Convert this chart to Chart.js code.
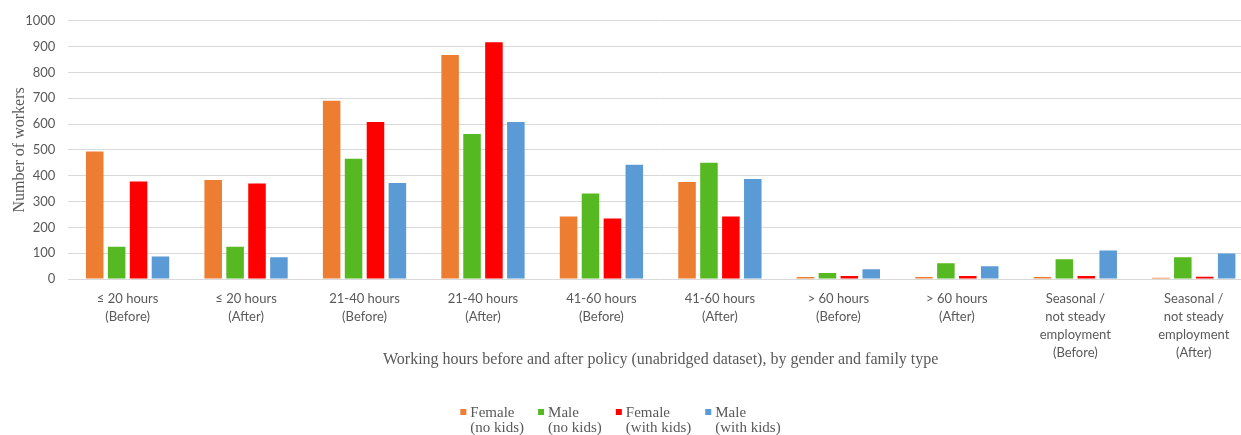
<!DOCTYPE html>
<html>
<head>
<meta charset="utf-8">
<script src="https://cdn.jsdelivr.net/npm/chart.js@4.4.1/dist/chart.umd.min.js"></script>
<style>
  html, body { margin: 0; padding: 0; background: #fff; overflow: hidden; }
  /* plot runs slightly past the right edge of the window, as in the source image */
  #wrap { width: 1253px; height: 435px; }
</style>
</head>
<body>
<div id="wrap"><canvas id="barchart"></canvas></div>
<script>
// data block
const categories = [
  ["\u2264 20 hours", "(Before)"],
  ["\u2264 20 hours", "(After)"],
  ["21-40 hours", "(Before)"],
  ["21-40 hours", "(After)"],
  ["41-60 hours", "(Before)"],
  ["41-60 hours", "(After)"],
  ["> 60 hours", "(Before)"],
  ["> 60 hours", "(After)"],
  ["Seasonal /", "not steady", "employment", "(Before)"],
  ["Seasonal /", "not steady", "employment", "(After)"]
];
const femaleNoKids   = [494, 384, 690, 868, 242, 376, 8, 8, 8, 5];
const maleNoKids     = [125, 125, 466, 562, 331, 450, 23, 61, 77, 84];
const femaleWithKids = [378, 370, 608, 917, 234, 242, 12, 12, 12, 9];
const maleWithKids   = [87, 84, 372, 608, 443, 387, 38, 50, 111, 99];

const seriesNames = [["Female", "(no kids)"], ["Male", "(no kids)"], ["Female", "(with kids)"], ["Male", "(with kids)"]];
const seriesColors = ["#ED7D31", "#56B921", "#FF0000", "#5B9BD5"];

const gray = "#595959";
const serif = "'Liberation Serif', 'Times New Roman', serif";
const sans = "Lato, 'Liberation Sans', sans-serif";

// legend with two-line labels, drawn under the x axis
const twoLineLegend = {
  id: "twoLineLegend",
  afterDraw(chart) {
    const ctx = chart.ctx;
    ctx.save();
    ctx.font = "15px " + serif;
    ctx.fillStyle = gray;
    ctx.textBaseline = "middle";
    const box = 7, boxGap = 3, itemGap = 14;
    const widths = seriesNames.map(n => box + boxGap + Math.max(...n.map(t => ctx.measureText(t).width)));
    const total = widths.reduce((a, b) => a + b, 0) + itemGap * (widths.length - 1);
    let x = 620.5 - total / 2;
    const y1 = 413, y2 = 428;
    seriesNames.forEach((n, i) => {
      ctx.fillStyle = seriesColors[i];
      ctx.fillRect(x, y1 - 4, box - 1, box - 1);
      ctx.fillStyle = gray;
      ctx.textAlign = "left";
      ctx.fillText(n[0], x + box + boxGap, y1);
      ctx.fillText(n[1], x + box + boxGap, y2);
      x += widths[i] + itemGap;
    });
    ctx.restore();
  }
};

const data = {
  labels: categories,
  datasets: [femaleNoKids, maleNoKids, femaleWithKids, maleWithKids].map((vals, i) => ({
    label: seriesNames[i].join(" "),
    data: vals,
    backgroundColor: seriesColors[i],
    borderWidth: 0,
    categoryPercentage: 0.74,
    barPercentage: 0.8
  }))
};

// config block
const config = {
  type: "bar",
  data,
  options: {
    responsive: true,
    maintainAspectRatio: false,
    animation: false,
    layout: { padding: { left: 10, right: 0, top: 7, bottom: 66 } },
    plugins: {
      legend: { display: false },
      tooltip: { enabled: false }
    },
    scales: {
      x: {
        grid: { display: false, drawTicks: false },
        border: { display: false },
        ticks: {
          color: gray,
          font: { family: sans, size: 13, lineHeight: 1.38 },
          padding: 11,
          maxRotation: 0,
          autoSkip: false
        },
        title: {
          display: true,
          text: "Working hours before and after policy (unabridged dataset), by gender and family type",
          color: gray,
          font: { family: serif, size: 16 },
          padding: { top: -23, bottom: 0 }
        }
      },
      y: {
        min: 0,
        max: 1000,
        grid: { color: "#D9D9D9", drawTicks: false },
        border: { display: false },
        ticks: {
          stepSize: 100,
          color: gray,
          font: { family: sans, size: 13 },
          padding: 13,
          callback: v => String(v)
        },
        title: {
          display: true,
          text: "Number of workers",
          color: gray,
          font: { family: serif, size: 16 },
          padding: { top: 0, bottom: -17 }
        }
      }
    }
  },
  plugins: [twoLineLegend]
};

// render
const barchart = new Chart(document.getElementById("barchart"), config);
</script>
</body>
</html>
